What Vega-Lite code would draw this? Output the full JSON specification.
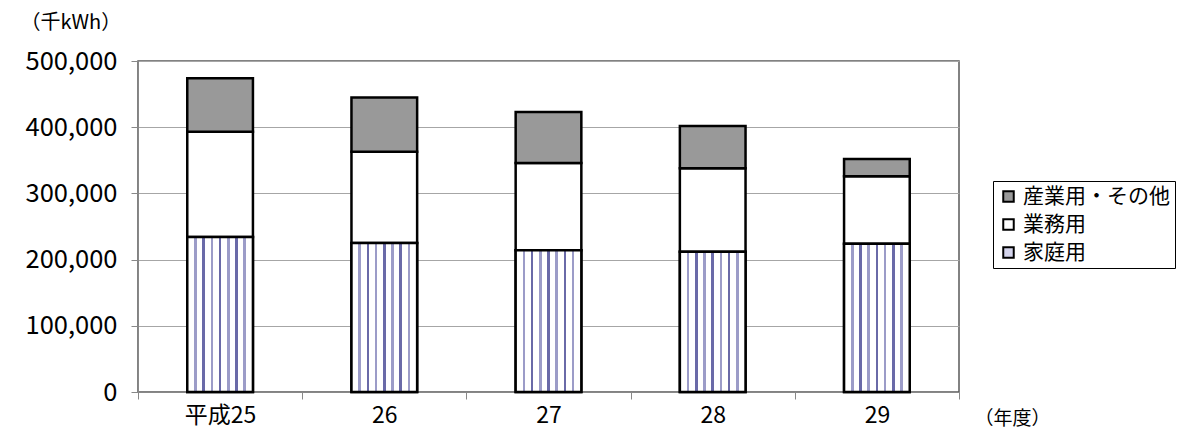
{
  "$schema": "https://vega.github.io/schema/vega-lite/v6.json",
  "width": 821,
  "height": 331,
  "autosize": "none",
  "padding": {"left": 138, "top": 61, "right": 233, "bottom": 38},
  "background": "white",
  "config": {
    "view": {"stroke": "#595959", "strokeWidth": 1.5},
    "font": "Noto Sans CJK JP"
  },
  "data": {
    "values": [
      {"year": "平成25", "type": "家庭用", "v": 234000, "k": 1},
      {"year": "平成25", "type": "業務用", "v": 159000, "k": 2},
      {"year": "平成25", "type": "産業用・その他", "v": 81000, "k": 3},
      {"year": "26", "type": "家庭用", "v": 225000, "k": 1},
      {"year": "26", "type": "業務用", "v": 138000, "k": 2},
      {"year": "26", "type": "産業用・その他", "v": 82000, "k": 3},
      {"year": "27", "type": "家庭用", "v": 214000, "k": 1},
      {"year": "27", "type": "業務用", "v": 132000, "k": 2},
      {"year": "27", "type": "産業用・その他", "v": 77000, "k": 3},
      {"year": "28", "type": "家庭用", "v": 212000, "k": 1},
      {"year": "28", "type": "業務用", "v": 126000, "k": 2},
      {"year": "28", "type": "産業用・その他", "v": 64000, "k": 3},
      {"year": "29", "type": "家庭用", "v": 224000, "k": 1},
      {"year": "29", "type": "業務用", "v": 102000, "k": 2},
      {"year": "29", "type": "産業用・その他", "v": 26000, "k": 3}
    ]
  },
  "encoding": {
    "x": {
      "field": "year",
      "type": "nominal",
      "sort": null,
      "scale": {"paddingInner": 0, "paddingOuter": 0},
      "axis": {
        "title": "（年度）",
        "titleX": 836,
        "titleY": 26,
        "titleAlign": "left",
        "titleBaseline": "middle",
        "titleFontSize": 19,
        "titleFontWeight": "normal",
        "titleColor": "#000",
        "labelAngle": 0,
        "labelFontSize": 23,
        "labelColor": "#000",
        "labelPadding": 5,
        "tickBand": "extent",
        "tickSize": 7,
        "tickColor": "#888",
        "domainColor": "#888"
      }
    },
    "y": {
      "field": "v",
      "type": "quantitative",
      "scale": {"domain": [0, 500000]},
      "axis": {
        "values": [0, 100000, 200000, 300000, 400000, 500000],
        "format": ",d",
        "grid": true,
        "gridColor": "#a6a6a6",
        "labelFontSize": 25.5,
        "labelColor": "#000",
        "labelPadding": 14,
        "tickSize": 7,
        "tickColor": "#888",
        "domainColor": "#888",
        "title": "（千kWh）",
        "titleAngle": 0,
        "titleAlign": "left",
        "titleBaseline": "middle",
        "titleX": -118,
        "titleY": -39,
        "titleFontSize": 20,
        "titleFontWeight": "normal",
        "titleColor": "#000"
      }
    }
  },
  "layer": [
    {
      "mark": {"type": "bar", "width": {"band": 0.4}, "stroke": "black", "strokeWidth": 2.5},
      "encoding": {
        "color": {
          "field": "type",
          "type": "nominal",
          "scale": {
            "domain": ["産業用・その他", "業務用", "家庭用"],
            "range": ["#999999", "#ffffff", "#d4d4ec"]
          },
          "legend": {
            "title": null,
            "orient": "none",
            "legendX": 855,
            "legendY": 120,
            "strokeColor": "#000",
            "fillColor": "white",
            "padding": 5,
            "symbolType": "square",
            "symbolSize": 110,
            "symbolStrokeColor": "#000",
            "symbolStrokeWidth": 2,
            "labelFontSize": 21,
            "labelColor": "#000",
            "rowPadding": 6,
            "labelOffset": 4
          }
        },
        "order": {"field": "k", "type": "quantitative"}
      }
    },
    {
      "transform": [{"filter": "datum.k === 1"}],
      "mark": {
        "type": "bar",
        "width": {"band": 0.4},
        "stroke": "black",
        "strokeWidth": 2.5,
        "fill": {
          "gradient": "linear",
          "x1": 0, "y1": 0, "x2": 1, "y2": 0,
          "stops": [
            {"offset": 0, "color": "#ffffff"},
            {"offset": 0.105, "color": "#ffffff"},
            {"offset": 0.105, "color": "#9c9cc8"},
            {"offset": 0.145, "color": "#9c9cc8"},
            {"offset": 0.145, "color": "#ffffff"},
            {"offset": 0.23, "color": "#ffffff"},
            {"offset": 0.23, "color": "#6a6aa8"},
            {"offset": 0.27, "color": "#6a6aa8"},
            {"offset": 0.27, "color": "#ffffff"},
            {"offset": 0.355, "color": "#ffffff"},
            {"offset": 0.355, "color": "#9c9cc8"},
            {"offset": 0.395, "color": "#9c9cc8"},
            {"offset": 0.395, "color": "#ffffff"},
            {"offset": 0.48, "color": "#ffffff"},
            {"offset": 0.48, "color": "#6a6aa8"},
            {"offset": 0.52, "color": "#6a6aa8"},
            {"offset": 0.52, "color": "#ffffff"},
            {"offset": 0.605, "color": "#ffffff"},
            {"offset": 0.605, "color": "#9c9cc8"},
            {"offset": 0.645, "color": "#9c9cc8"},
            {"offset": 0.645, "color": "#ffffff"},
            {"offset": 0.73, "color": "#ffffff"},
            {"offset": 0.73, "color": "#6a6aa8"},
            {"offset": 0.77, "color": "#6a6aa8"},
            {"offset": 0.77, "color": "#ffffff"},
            {"offset": 0.855, "color": "#ffffff"},
            {"offset": 0.855, "color": "#9c9cc8"},
            {"offset": 0.895, "color": "#9c9cc8"},
            {"offset": 0.895, "color": "#ffffff"},
            {"offset": 1, "color": "#ffffff"}
          ]
        }
      },
      "encoding": {}
    }
  ]
}
